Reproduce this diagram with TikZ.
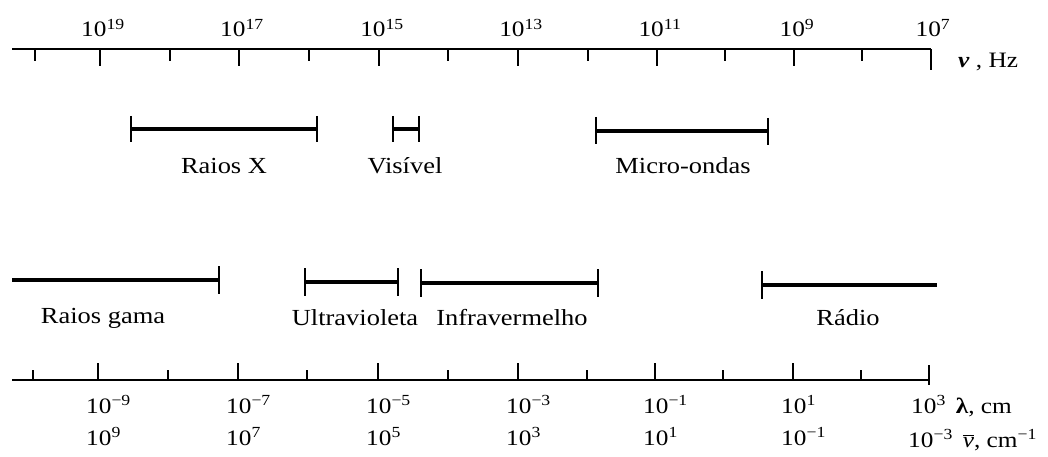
\documentclass[tikz,border=0pt]{standalone}
\usepackage{fontspec}
\setmainfont{Liberation Serif}[FakeStretch=1.15]
\newcommand\pw[1]{10\textsuperscript{#1}}
\begin{document}
\begin{tikzpicture}[x=1pt,y=-1pt,
  axis/.style={line width=2.2pt},
  tk/.style={line width=1.9pt},
  bar/.style={line width=3.2pt},
  capline/.style={line width=2.6pt},
  lbl/.style={font=\fontsize{23}{26}\selectfont, inner sep=0pt},
  num/.style={font=\fontsize{22}{26}\selectfont, inner sep=0pt},
]
\useasboundingbox (0,0) rectangle (1048,457);
% ---------- top axis (frequency) ----------
\coordinate (ta) at (12,49);
\coordinate (tb) at (931,49);
\draw[axis] (ta) -- (tb);
\foreach \x in {35,170,309,448,588,725,862}
  \draw[tk] (\x,49) -- (\x,61);
\foreach \x/\e in {100/19,239/17,379/15,518/13,657/11,794/9}{
  \draw[tk] (\x,49) -- (\x,66);
  \node[num,anchor=base] (f\e) at (\x+3,37) {\pw{\e}};
}
\coordinate (te) at (931,70);
\draw[tk] (tb) -- (te);
\node[num,anchor=base] (f7) at (933,37) {\pw{7}};
\node[num,anchor=base west] (nu) at (958,68) {\textbf{\textit{ν}} , Hz};
% ---------- ranges, upper row ----------
\coordinate (xa) at (131,129); \coordinate (xb) at (317,129);
\draw[bar] (xa) -- (xb);
\draw[capline] (131,116) -- (131,142);
\draw[capline] (317,116) -- (317,142);
\node[lbl] (raiosx) at (224,166) {Raios X};
\coordinate (va) at (393,129); \coordinate (vb) at (419,129);
\draw[bar] (va) -- (vb);
\draw[capline] (393,116) -- (393,142);
\draw[capline] (419,116) -- (419,142);
\node[lbl] (visivel) at (405,166) {Visível};
\coordinate (ma) at (596,131); \coordinate (mb) at (768,131);
\draw[bar] (ma) -- (mb);
\draw[capline] (596,117) -- (596,144);
\draw[capline] (768,118) -- (768,145);
\node[lbl] (micro) at (683,166) {Micro-ondas};
% ---------- ranges, lower row ----------
\coordinate (ga) at (12,280); \coordinate (gb) at (219,280);
\draw[bar] (ga) -- (gb);
\draw[capline] (219,266) -- (219,294);
\node[lbl] (gama) at (103,318) {Raios gama};
\coordinate (ua) at (305,282); \coordinate (ub) at (398,282);
\draw[bar] (ua) -- (ub);
\draw[capline] (305,268) -- (305,296);
\draw[capline] (398,268) -- (398,296);
\node[lbl] (uv) at (355,318) {Ultravioleta};
\coordinate (ia) at (421,283); \coordinate (ib) at (598,283);
\draw[bar] (ia) -- (ib);
\draw[capline] (421,269) -- (421,297);
\draw[capline] (598,269) -- (598,297);
\node[lbl] (ir) at (512,318) {Infravermelho};
\coordinate (ra) at (762,285); \coordinate (rb) at (937,285);
\draw[bar] (ra) -- (rb);
\draw[capline] (762,271) -- (762,299);
\node[lbl] (radio) at (848,318) {Rádio};
% ---------- bottom axis (wavelength / wavenumber) ----------
\coordinate (ba) at (12,380);
\coordinate (bb) at (929,380);
\draw[axis] (ba) -- (bb);
\foreach \x in {33,168,307,448,587,723,861}
  \draw[tk] (\x,380) -- (\x,370);
\foreach \x/\a/\b in {98/−9/9,238/−7/7,378/−5/5,518/−3/3,655/−1/1,793/1/−1}{
  \draw[tk] (\x,380) -- (\x,363);
  \node[num,anchor=base west] (l\x) at (\x-12,413) {\pw{\a}};
  \node[num,anchor=base west] (k\x) at (\x-12,445) {\pw{\b}};
}
\coordinate (be) at (929,365);
\coordinate (bf) at (929,385);
\draw[tk] (be) -- (bf);
\node[num,anchor=base west] (l929) at (911,413) {\pw{3}\hspace{10pt}\textbf{λ}, cm};
\node[num,anchor=base west] (k929) at (908,447) {\pw{−3}\hspace{10pt}$\overline{\hbox{\textit{ν}}}$, cm\textsuperscript{−1}};
\end{tikzpicture}
\end{document}
